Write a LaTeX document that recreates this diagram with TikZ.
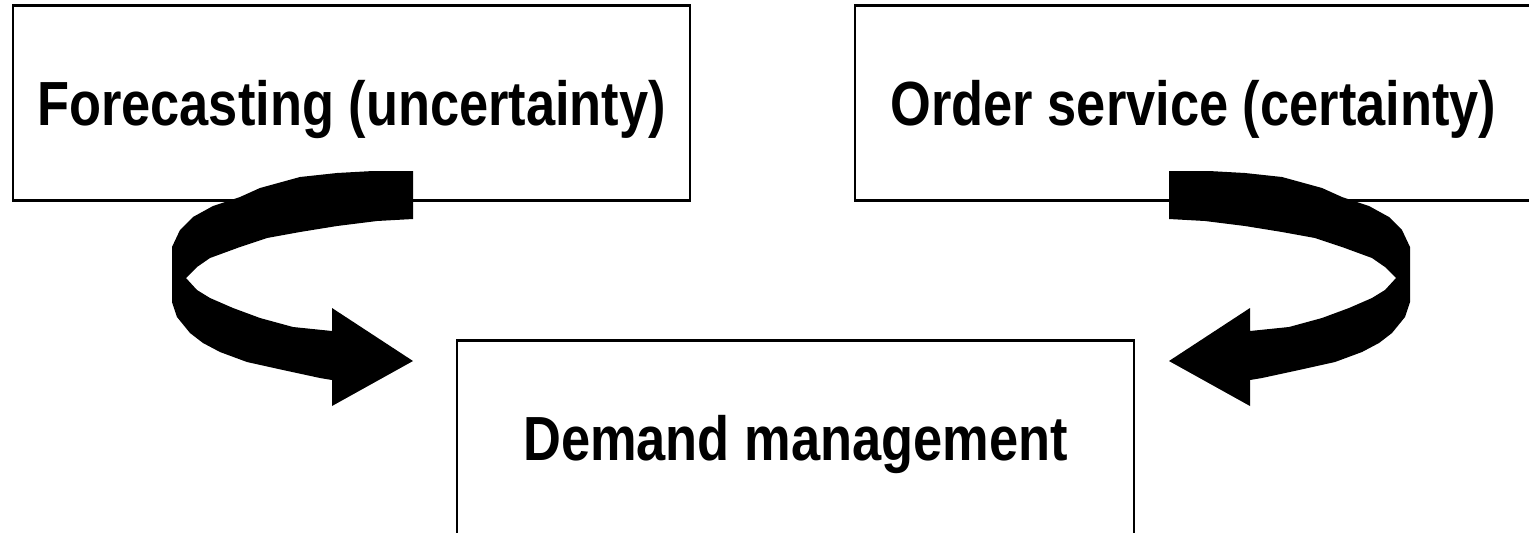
\documentclass[tikz,border=0pt]{standalone}
\usepackage{fontspec}
% condensed bold sans for the box captions
\newfontfamily\boxfont[FakeStretch=0.84]{Liberation Sans}
\tikzset{
  box/.style={draw=black, line width=0.05cm, minimum width=13.54cm,
    minimum height=3.9cm, inner sep=0pt, text height=0.9cm, text depth=0pt,
    font={\boxfont\bfseries\fontsize{35.5pt}{40pt}\selectfont}},
  % thick ribbon arrow that swings out to the left and comes back to the right
  turnarrow/.pic={
    \fill[black]
      (413,171) -- (373,171) -- (337,173) -- (300,177) -- (260,188)
      -- (240,197) -- (213,206) -- (193,217) -- (180,230) -- (172,247)
      -- (172,302) -- (177,317) -- (190,333) -- (203,343) -- (220,352)
      -- (247,362) -- (283,370) -- (320,378) -- (332,380)
      -- (332,406) -- (413,361) -- (332,308)
      -- (332,331) -- (293,327) -- (260,318) -- (233,308) -- (210,298)
      -- (197,290) -- (186,278) -- (197,267) -- (210,258) -- (240,247)
      -- (267,238) -- (300,232) -- (337,226) -- (377,221) -- (413,219)
      -- cycle;
  }
}
\begin{document}
\begin{tikzpicture}[x=0.02cm, y=-0.02cm]
\useasboundingbox (0,0) rectangle (1529,532);
\clip (0,0) rectangle (1529,532);
\fill[white] (0,0) rectangle (1529,532);
\node[box] (fc) at (351.5,103) {Forecasting (uncertainty)};
\node[box] (os) at (1193.5,103) {Order service (certainty)};
\node[box] (dm) at (795.5,438) {Demand management};
\pic at (0,0) {turnarrow};
\pic[xscale=-1] at (1582,0) {turnarrow};
\end{tikzpicture}
\end{document}
